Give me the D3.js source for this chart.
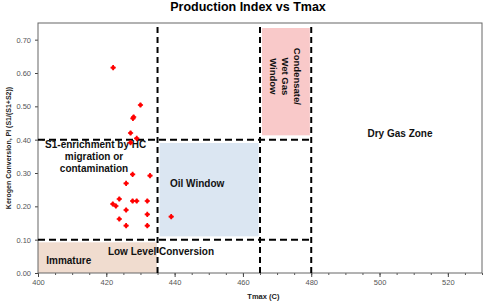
<!DOCTYPE html>
<html>
<head>
<meta charset="utf-8">
<script src="https://cdn.jsdelivr.net/npm/d3@7"></script>
<style>
  body { margin: 0; background: #fff; }
  text { font-family: "Liberation Sans", Arial, sans-serif; }
</style>
</head>
<body>
<div id="chart"></div>
<script>
// Data
const tmax = [422, 430, 427.8, 428, 427.1, 428.9, 427.1, 427.7, 432.8, 425.8, 423.8,
  421.9, 422.8, 427.7, 428.9, 432, 425.8, 432, 423.8, 425.8, 432, 439]
const pi = [0.616, 0.504, 0.464, 0.468, 0.42, 0.404, 0.391, 0.296, 0.292, 0.269, 0.222,
  0.207, 0.201, 0.216, 0.216, 0.216, 0.189, 0.176, 0.162, 0.142, 0.142, 0.169]

const xTicks = [400, 420, 440, 460, 480, 500, 520]
const yTicks = [0, 0.1, 0.2, 0.3, 0.4, 0.5, 0.6, 0.7]

// zone boundaries (x in Tmax, y in PI)
const vLines = [435, 465, 480]
const hLines = [0.1, 0.4]

const zones = [
  { name: 'immature', x0: 400, x1: 434.8, y0: 0, y1: 0.092, color: '#f0dccf' },
  { name: 'oil', x0: 435.6, x1: 464.6, y0: 0.11, y1: 0.39, color: '#dbe6f2' },
  { name: 'condensate', x0: 465.6, x1: 479.6, y0: 0.413, y1: 0.735, color: '#f9c9c9' },
]

const labels = [
  { lines: ['Immature'], x: 409, y: 0.037 },
  { lines: ['Low Level Conversion'], x: 436, y: 0.064 },
  { lines: ['Oil Window'], x: 446.6, y: 0.269 },
  { lines: ['Dry Gas Zone'], x: 506, y: 0.42 },
  { lines: ['\u02CAS1-enrichment by HC', 'migration or', 'contamination'], x: 416.4, y: 0.385 },
]
const condLines = ['Condensate/', 'Wet Gas', 'Window']

// Dimensions
let dimensions = {
  width: 484,
  height: 301,
  margins: { top: 23, right: 2, bottom: 28, left: 38 },
}
dimensions.ctrWidth = dimensions.width - dimensions.margins.left - dimensions.margins.right
dimensions.ctrHeight = dimensions.height - dimensions.margins.top - dimensions.margins.bottom

const svg = d3.select('#chart')
  .append('svg')
  .attr('width', dimensions.width)
  .attr('height', dimensions.height)

const ctr = svg.append('g')
  .attr('transform', `translate(${dimensions.margins.left}, ${dimensions.margins.top})`)

// Scales
const xScale = d3.scaleLinear().domain([400, 530]).range([0, dimensions.ctrWidth])
const yScale = d3.scaleLinear().domain([0, 0.75]).range([dimensions.ctrHeight, 0])

// zones
ctr.selectAll('rect.zone')
  .data(zones)
  .join('rect')
  .attr('class', 'zone')
  .attr('x', d => xScale(d.x0))
  .attr('y', d => yScale(d.y1))
  .attr('width', d => xScale(d.x1) - xScale(d.x0))
  .attr('height', d => yScale(d.y0) - yScale(d.y1))
  .attr('fill', d => d.color)

// Axes
const xAxis = ctr.append('g')
  .attr('transform', `translate(0, ${dimensions.ctrHeight})`)
  .call(d3.axisBottom(xScale).tickValues(d3.range(400, 531, 5)).tickSize(2).tickFormat(''))
xAxis.select('.domain').remove()
xAxis.selectAll('line').attr('stroke', '#555')

const xAxisMain = ctr.append('g')
  .attr('transform', `translate(0, ${dimensions.ctrHeight})`)
  .call(d3.axisBottom(xScale).tickValues(xTicks).tickSize(4).tickPadding(3).tickFormat(d3.format('d')))
xAxisMain.select('.domain').remove()
xAxisMain.selectAll('line').attr('stroke', '#444')
xAxisMain.selectAll('text').attr('fill', '#555').style('font-size', '7.5px')

const yAxis = ctr.append('g')
  .call(d3.axisLeft(yScale).tickValues(yTicks).tickSize(3).tickPadding(4).tickFormat(d3.format('.2f')))
yAxis.select('.domain').remove()
yAxis.selectAll('line').attr('stroke', '#444')
yAxis.selectAll('text').attr('fill', '#555').style('font-size', '7.5px')

// frame
ctr.append('rect')
  .attr('width', dimensions.ctrWidth)
  .attr('height', dimensions.ctrHeight)
  .attr('fill', 'none')
  .attr('stroke', '#666')
  .attr('stroke-width', 1)

// dashed boundaries
ctr.selectAll('line.vdash')
  .data(vLines)
  .join('line')
  .attr('x1', d => xScale(d))
  .attr('x2', d => xScale(d))
  .attr('y1', yScale(0))
  .attr('y2', yScale(0.75))
  .attr('stroke', '#000')
  .attr('stroke-width', 2)
  .attr('stroke-dasharray', '6,4')

ctr.selectAll('line.hdash')
  .data(hLines)
  .join('line')
  .attr('x1', xScale(400))
  .attr('x2', xScale(480))
  .attr('y1', d => yScale(d))
  .attr('y2', d => yScale(d))
  .attr('stroke', '#000')
  .attr('stroke-width', 2)
  .attr('stroke-dasharray', '7,4')

// zone labels
labels.forEach(l => {
  const t = ctr.append('text')
    .attr('text-anchor', 'middle')
    .style('font-size', '10px')
    .style('font-weight', 'bold')
    .attr('fill', '#111')
  l.lines.forEach((line, i) => {
    t.append('tspan')
      .attr('x', xScale(l.x))
      .attr('y', yScale(l.y) + i * 12)
      .attr('dy', '0.35em')
      .text(line)
  })
})

const cond = ctr.append('text')
  .attr('transform', `translate(${xScale(472.3)}, ${yScale(0.59)}) rotate(90)`)
  .attr('text-anchor', 'middle')
  .style('font-size', '9.5px')
  .style('font-weight', 'bold')
  .attr('fill', '#111')
cond.selectAll('tspan')
  .data(condLines)
  .join('tspan')
  .attr('x', 0)
  .attr('y', (d, i) => (i - 1) * 12)
  .attr('dy', '0.35em')
  .text(d => d)

// points: small rounded red star
const pts = ctr.selectAll('g.pt')
  .data(tmax)
  .join('g')
  .attr('class', 'pt')
  .attr('transform', (d, i) => `translate(${xScale(d)}, ${yScale(pi[i])})`)
pts.append('path')
  .attr('d', d3.symbol(d3.symbolCross, 15))
  .attr('fill', '#f00')
pts.append('circle')
  .attr('r', 1.9)
  .attr('fill', '#f00')

// title and axis labels
svg.append('text')
  .attr('x', 248)
  .attr('y', 7)
  .attr('dy', '0.35em')
  .attr('text-anchor', 'middle')
  .style('font-size', '12.5px')
  .style('font-weight', 'bold')
  .text('Production Index vs Tmax')

svg.append('text')
  .attr('x', dimensions.margins.left + xScale(466))
  .attr('y', 296)
  .attr('dy', '0.35em')
  .attr('text-anchor', 'middle')
  .style('font-size', '7.5px')
  .style('font-weight', 'bold')
  .attr('fill', '#222')
  .text('Tmax (C)')

svg.append('text')
  .attr('transform', `translate(9, ${dimensions.margins.top + dimensions.ctrHeight / 2}) rotate(-90)`)
  .attr('dy', '0.35em')
  .attr('text-anchor', 'middle')
  .style('font-size', '7px')
  .style('font-weight', 'bold')
  .attr('fill', '#222')
  .text('Kerogen Conversion, PI (S1/(S1+S2))')
</script>
</body>
</html>
